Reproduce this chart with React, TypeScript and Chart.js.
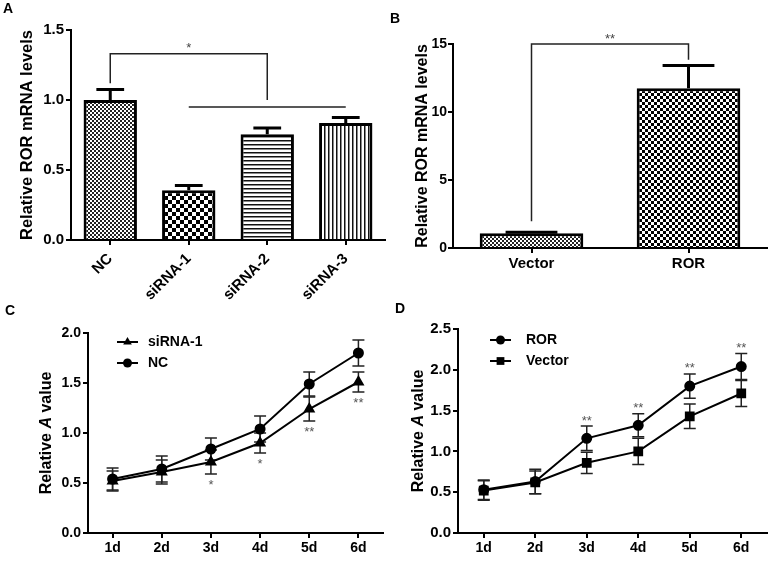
import { useEffect, useRef } from 'react';
import { Chart, registerables } from 'chart.js';

Chart.register(...registerables);

const FONT = '"Liberation Sans", Arial, Helvetica, sans-serif';

// ---------- Panel A ----------
const catsA = ['NC', 'siRNA-1', 'siRNA-2', 'siRNA-3'];
const valuesA = [1.0, 0.355, 0.755, 0.835];
const errA = [0.075, 0.035, 0.045, 0.04];
const ticksA = [0, 0.5, 1.0, 1.5];
const bracketA = { from: 0, to: 2, top: 1.33, fromEnd: 1.12, toEnd: 1.0, label: '*' };
const groupLineA = { from: 1, to: 3, value: 0.95 };

// ---------- Panel B ----------
const catsB = ['Vector', 'ROR'];
const valuesB = [1.08, 11.75];
const errB = [0.08, 1.67];
const ticksB = [0, 5, 10, 15];
const bracketB = { from: 0, to: 1, top: 15, fromEnd: 1.96, toEnd: 13.85, label: '**' };

// ---------- Panel C ----------
const days = ['1d', '2d', '3d', '4d', '5d', '6d'];
const siRNA1C = [0.52, 0.61, 0.71, 0.9, 1.24, 1.51];
const siRNA1ErrC = [0.1, 0.12, 0.12, 0.1, 0.12, 0.1];
const ncC = [0.54, 0.64, 0.84, 1.04, 1.49, 1.8];
const ncErrC = [0.11, 0.13, 0.11, 0.13, 0.12, 0.13];
const starsC = ['', '', '*', '*', '**', '**'];
const ticksC = [0, 0.5, 1.0, 1.5, 2.0];

// ---------- Panel D ----------
const rorD = [0.53, 0.63, 1.16, 1.32, 1.8, 2.04];
const rorErrD = [0.12, 0.15, 0.15, 0.14, 0.15, 0.16];
const vectorD = [0.52, 0.62, 0.86, 1.0, 1.43, 1.71];
const vectorErrD = [0.12, 0.14, 0.13, 0.16, 0.15, 0.16];
const starsD = ['', '', '**', '**', '**', '**'];
const ticksD = [0, 0.5, 1.0, 1.5, 2.0, 2.5];

function makePattern(kind: string): CanvasPattern | string {
  const c = document.createElement('canvas');
  const g = c.getContext('2d');
  if (!g) return '#888';
  const checker = (cell: number, dark: string) => {
    c.width = c.height = cell * 2;
    g.fillStyle = '#fff';
    g.fillRect(0, 0, cell * 2, cell * 2);
    g.fillStyle = dark;
    g.fillRect(0, 0, cell, cell);
    g.fillRect(cell, cell, cell, cell);
  };
  if (kind === 'fine') checker(2, '#222');
  else if (kind === 'check4') checker(4, '#000');
  else if (kind === 'check3') checker(3, '#000');
  else if (kind === 'hlines') {
    c.width = 4; c.height = 4;
    g.fillStyle = '#fff'; g.fillRect(0, 0, 4, 4);
    g.fillStyle = '#111'; g.fillRect(0, 0, 4, 1);
    g.fillStyle = '#888'; g.fillRect(0, 1, 4, 1);
  } else if (kind === 'vlines') {
    c.width = 4; c.height = 4;
    g.fillStyle = '#fff'; g.fillRect(0, 0, 4, 4);
    g.fillStyle = '#111'; g.fillRect(0, 0, 1, 4);
    g.fillStyle = '#888'; g.fillRect(1, 0, 1, 4);
  }
  return g.createPattern(c, 'repeat') || '#888';
}

function drawMarker(ctx: CanvasRenderingContext2D, style: string, x: number, y: number, r: number) {
  ctx.beginPath();
  if (style === 'circle') {
    ctx.arc(x, y, r, 0, Math.PI * 2);
  } else if (style === 'rect') {
    const s = r * Math.SQRT1_2;
    ctx.rect(x - s, y - s, 2 * s, 2 * s);
  } else {
    let rad = 0;
    ctx.moveTo(x + Math.sin(rad) * r, y - Math.cos(rad) * r);
    rad += (Math.PI * 2) / 3;
    ctx.lineTo(x + Math.sin(rad) * r, y - Math.cos(rad) * r);
    rad += (Math.PI * 2) / 3;
    ctx.lineTo(x + Math.sin(rad) * r, y - Math.cos(rad) * r);
    ctx.closePath();
  }
  ctx.fill();
}

function yAxis(min: number, max: number, ticks: number[], decimals: number, width: number, fontSize: number, pad: number, title?: any) {
  return {
    min,
    max,
    afterBuildTicks: (s: any) => {
      s.ticks = ticks.map((value) => ({ value }));
    },
    afterFit: (s: any) => {
      s.width = width;
    },
    ticks: {
      callback: (v: any) => Number(v).toFixed(decimals),
      font: { family: FONT, size: fontSize, weight: 'bold' },
      color: '#000',
      padding: pad,
    },
    grid: { display: true, drawOnChartArea: false, drawTicks: true, tickLength: 5, color: '#000', lineWidth: 2 },
    border: { display: true, color: '#000', width: 2 },
    title: title || { display: false },
  };
}

function xAxis(height: number, fontSize: number, rotate: boolean, pad: number) {
  return {
    offset: true,
    afterFit: (s: any) => {
      s.height = height;
    },
    ticks: {
      font: { family: FONT, size: fontSize, weight: 'bold' },
      color: '#000',
      padding: pad,
      autoSkip: false,
      minRotation: rotate ? 45 : 0,
      maxRotation: rotate ? 45 : 0,
    },
    grid: { display: true, offset: false, drawOnChartArea: false, drawTicks: true, tickLength: 5, color: '#000', lineWidth: 2 },
    border: { display: true, color: '#000', width: 2 },
  };
}

function barExtras(values: number[], errs: number[], capFrac: number, bracket: any, groupLine: any) {
  return {
    id: 'barExtras',
    afterDatasetsDraw(chart: any) {
      const ctx: CanvasRenderingContext2D = chart.ctx;
      const ys = chart.scales.y;
      const xs = chart.scales.x;
      const meta = chart.getDatasetMeta(0);
      ctx.save();
      ctx.strokeStyle = '#000';
      ctx.lineWidth = 3;
      meta.data.forEach((bar: any, i: number) => {
        const top = ys.getPixelForValue(values[i]);
        const e = ys.getPixelForValue(values[i] + errs[i]);
        const half = bar.width * capFrac;
        ctx.beginPath();
        ctx.moveTo(bar.x, top);
        ctx.lineTo(bar.x, e);
        ctx.moveTo(bar.x - half, e);
        ctx.lineTo(bar.x + half, e);
        ctx.stroke();
      });
      ctx.lineWidth = 1.5;
      ctx.strokeStyle = '#222';
      const x1 = xs.getPixelForValue(bracket.from);
      const x2 = xs.getPixelForValue(bracket.to);
      const yt = ys.getPixelForValue(bracket.top);
      ctx.beginPath();
      ctx.moveTo(x1, ys.getPixelForValue(bracket.fromEnd));
      ctx.lineTo(x1, yt);
      ctx.lineTo(x2, yt);
      ctx.lineTo(x2, ys.getPixelForValue(bracket.toEnd));
      if (groupLine) {
        const gy = ys.getPixelForValue(groupLine.value);
        ctx.moveTo(xs.getPixelForValue(groupLine.from), gy);
        ctx.lineTo(xs.getPixelForValue(groupLine.to), gy);
      }
      ctx.stroke();
      ctx.fillStyle = '#444';
      ctx.font = `13px ${FONT}`;
      ctx.textAlign = 'center';
      ctx.textBaseline = 'middle';
      ctx.fillText(bracket.label, (x1 + x2) / 2, yt - 8 + 3);
      ctx.restore();
    },
  };
}

function lineExtras(errs: number[][], stars: string[], below: boolean, legendDx: number, legendDy: number, textGap: number, titleX: number) {
  return {
    id: 'lineExtras',
    beforeDatasetsDraw(chart: any) {
      const ctx: CanvasRenderingContext2D = chart.ctx;
      const ys = chart.scales.y;
      ctx.save();
      ctx.strokeStyle = '#222';
      ctx.lineWidth = 1.5;
      chart.data.datasets.forEach((ds: any, di: number) => {
        const meta = chart.getDatasetMeta(di);
        meta.data.forEach((pt: any, i: number) => {
          const v = ds.data[i];
          const hi = ys.getPixelForValue(v + errs[di][i]);
          const lo = ys.getPixelForValue(v - errs[di][i]);
          ctx.beginPath();
          ctx.moveTo(pt.x, hi);
          ctx.lineTo(pt.x, lo);
          ctx.moveTo(pt.x - 6, hi);
          ctx.lineTo(pt.x + 6, hi);
          ctx.moveTo(pt.x - 6, lo);
          ctx.lineTo(pt.x + 6, lo);
          ctx.stroke();
        });
      });
      ctx.restore();
    },
    afterDraw(chart: any) {
      const ctx: CanvasRenderingContext2D = chart.ctx;
      const ys = chart.scales.y;
      const { left, top, bottom } = chart.chartArea;
      ctx.save();
      // stars
      const ds0 = chart.data.datasets[0];
      const meta0 = chart.getDatasetMeta(0);
      ctx.fillStyle = '#555';
      ctx.font = `13px ${FONT}`;
      ctx.textAlign = 'center';
      ctx.textBaseline = 'middle';
      meta0.data.forEach((pt: any, i: number) => {
        if (!stars[i]) return;
        const v = ds0.data[i];
        if (below) {
          const lo = ys.getPixelForValue(v - errs[0][i]);
          ctx.fillText(stars[i], pt.x, lo + 8 + 3);
        } else {
          const hi = ys.getPixelForValue(v + errs[0][i]);
          ctx.fillText(stars[i], pt.x, hi - 8 + 3);
        }
      });
      // legend
      const lineLen = 21;
      chart.data.datasets.forEach((ds: any, k: number) => {
        const y = top + legendDy + k * 21;
        const x0 = left + legendDx;
        ctx.strokeStyle = '#000';
        ctx.lineWidth = 2;
        ctx.beginPath();
        ctx.moveTo(x0, y);
        ctx.lineTo(x0 + lineLen, y);
        ctx.stroke();
        ctx.fillStyle = '#000';
        drawMarker(ctx, ds.pointStyle, x0 + lineLen / 2, y, ds.pointRadius);
        ctx.font = `bold 14px ${FONT}`;
        ctx.textAlign = 'left';
        ctx.textBaseline = 'middle';
        ctx.fillText(ds.label, x0 + lineLen + textGap, y);
      });
      // y title with italic A
      const parts: [string, boolean][] = [['Relative ', false], ['A', true], [' value', false]];
      const size = 16;
      const fonts = parts.map(([, it]) => `${it ? 'italic ' : ''}bold ${size}px ${FONT}`);
      let total = 0;
      const widths = parts.map(([t], k) => {
        ctx.font = fonts[k];
        const w = ctx.measureText(t).width;
        total += w;
        return w;
      });
      ctx.translate(titleX, (top + bottom) / 2);
      ctx.rotate(-Math.PI / 2);
      ctx.fillStyle = '#000';
      ctx.textAlign = 'left';
      ctx.textBaseline = 'middle';
      let x = -total / 2;
      parts.forEach(([t], k) => {
        ctx.font = fonts[k];
        ctx.fillText(t, x, 0);
        x += widths[k];
      });
      ctx.restore();
    },
  };
}

const baseOpts = {
  responsive: false,
  animation: false,
  events: [],
  plugins: { legend: { display: false }, tooltip: { enabled: false } },
};

export default function App() {
  const refA = useRef<HTMLCanvasElement>(null);
  const refB = useRef<HTMLCanvasElement>(null);
  const refC = useRef<HTMLCanvasElement>(null);
  const refD = useRef<HTMLCanvasElement>(null);

  useEffect(() => {
    const charts: Chart[] = [];
    const fine = makePattern('fine');
    const check4 = makePattern('check4');
    const check3 = makePattern('check3');
    const hlines = makePattern('hlines');
    const vlines = makePattern('vlines');

    if (refA.current) {
      charts.push(
        new Chart(refA.current, {
          type: 'bar',
          data: {
            labels: catsA,
            datasets: [
              {
                data: valuesA,
                backgroundColor: [fine, check4, hlines, vlines] as any,
                borderColor: '#000',
                borderWidth: 3,
                barPercentage: 0.68,
                categoryPercentage: 1,
              },
            ],
          },
          options: {
            ...baseOpts,
            layout: { padding: { top: 30, right: 5, left: 0, bottom: 0 } },
            scales: {
              x: xAxis(70, 15, true, 5),
              y: yAxis(0, 1.5, ticksA, 1, 71, 15, 2, {
                display: true,
                text: 'Relative ROR mRNA levels',
                color: '#000',
                font: { family: FONT, size: 16.5, weight: 'bold' },
                padding: { top: 18, bottom: 0 },
              }),
            },
          } as any,
          plugins: [barExtras(valuesA, errA, 0.26, bracketA, groupLineA)],
        })
      );
    }

    if (refB.current) {
      charts.push(
        new Chart(refB.current, {
          type: 'bar',
          data: {
            labels: catsB,
            datasets: [
              {
                data: valuesB,
                backgroundColor: [fine, check3] as any,
                borderColor: '#000',
                borderWidth: 3,
                barPercentage: 0.66,
                categoryPercentage: 1,
              },
            ],
          },
          options: {
            ...baseOpts,
            layout: { padding: { top: 44, right: 14, left: 0, bottom: 0 } },
            scales: {
              x: xAxis(42, 15, false, 2),
              y: yAxis(0, 15, ticksB, 0, 63, 14, 1, {
                display: true,
                text: 'Relative ROR mRNA levels',
                color: '#000',
                font: { family: FONT, size: 16, weight: 'bold' },
                padding: { top: 23, bottom: 0 },
              }),
            },
          } as any,
          plugins: [barExtras(valuesB, errB, 0.25, bracketB, null)],
        })
      );
    }

    if (refC.current) {
      charts.push(
        new Chart(refC.current, {
          type: 'line',
          data: {
            labels: days,
            datasets: [
              {
                label: 'siRNA-1',
                data: siRNA1C,
                borderColor: '#000',
                borderWidth: 2,
                pointStyle: 'triangle',
                pointRadius: 5,
                pointBackgroundColor: '#000',
                pointBorderColor: '#000',
              },
              {
                label: 'NC',
                data: ncC,
                borderColor: '#000',
                borderWidth: 2,
                pointStyle: 'circle',
                pointRadius: 4.5,
                pointBackgroundColor: '#000',
                pointBorderColor: '#000',
              },
            ],
          },
          options: {
            ...baseOpts,
            layout: { padding: { top: 43, right: 0, left: 0, bottom: 0 } },
            scales: {
              x: xAxis(31, 14, false, 2),
              y: yAxis(0, 2.0, ticksC, 1, 88, 14, 2),
            },
          } as any,
          plugins: [lineExtras([siRNA1ErrC, ncErrC], starsC, true, 29, 9, 10, 47)],
        })
      );
    }

    if (refD.current) {
      charts.push(
        new Chart(refD.current, {
          type: 'line',
          data: {
            labels: days,
            datasets: [
              {
                label: 'ROR',
                data: rorD,
                borderColor: '#000',
                borderWidth: 2,
                pointStyle: 'circle',
                pointRadius: 4.5,
                pointBackgroundColor: '#000',
                pointBorderColor: '#000',
              },
              {
                label: 'Vector',
                data: vectorD,
                borderColor: '#000',
                borderWidth: 2,
                pointStyle: 'rect',
                pointRadius: 5.5,
                pointBackgroundColor: '#000',
                pointBorderColor: '#000',
              },
            ],
          },
          options: {
            ...baseOpts,
            layout: { padding: { top: 39, right: 14, left: 0, bottom: 0 } },
            scales: {
              x: xAxis(31, 14, false, 2),
              y: yAxis(0, 2.5, ticksD, 1, 68, 15, 2),
            },
          } as any,
          plugins: [lineExtras([rorErrD, vectorErrD], starsD, false, 32, 11, 15, 29)],
        })
      );
    }

    return () => {
      charts.forEach((c) => c.destroy());
    };
  }, []);

  const letter = (t: string, left: number, top: number) => (
    <div
      style={{
        position: 'absolute',
        left,
        top,
        fontFamily: FONT,
        fontWeight: 'bold',
        fontSize: 14,
        lineHeight: 1,
        color: '#000',
      }}
    >
      {t}
    </div>
  );

  return (
    <div style={{ position: 'absolute', left: 0, top: 0, width: 781, height: 564, background: '#fff', overflow: 'hidden' }}>
      <canvas ref={refA} width={390} height={310} style={{ position: 'absolute', left: 0, top: 0, width: 390, height: 310 }} />
      <canvas ref={refB} width={391} height={290} style={{ position: 'absolute', left: 390, top: 0, width: 391, height: 290 }} />
      <canvas ref={refC} width={390} height={274} style={{ position: 'absolute', left: 0, top: 290, width: 390, height: 274 }} />
      <canvas ref={refD} width={391} height={274} style={{ position: 'absolute', left: 390, top: 290, width: 391, height: 274 }} />
      {letter('A', 3, 1)}
      {letter('B', 390, 11)}
      {letter('C', 5, 303)}
      {letter('D', 395, 301)}
    </div>
  );
}
